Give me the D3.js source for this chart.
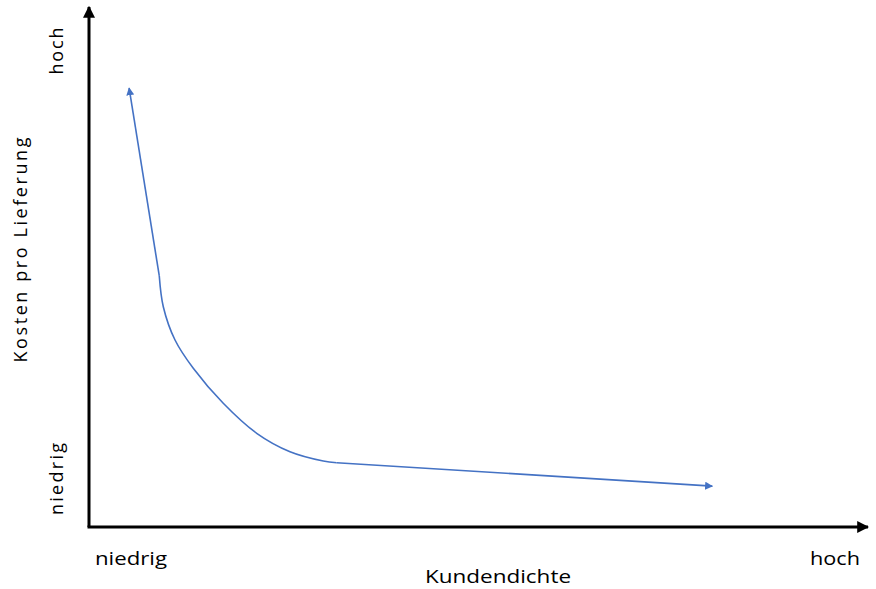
<!DOCTYPE html>
<html>
<head>
<meta charset="utf-8">
<script src="https://cdn.jsdelivr.net/npm/d3@7"></script>
<style>
  html, body { margin: 0; padding: 0; background: #fff; }
  text { font-family: "Open Sans", "Liberation Sans", sans-serif; fill: #000; }
</style>
</head>
<body>
<svg id="chart" width="876" height="589"></svg>
<script>
// Data (axis units 0..100)
const leftSegment = [ {x: 5.1, y: 84.9}, {x: 8.93, y: 48.55} ];
const curveSegment = [
  {x: 8.93, y: 48.55}, {x: 9.44, y: 42.61}, {x: 10.93, y: 36.17},
  {x: 13.25, y: 30.70}, {x: 17.06, y: 23.93}, {x: 21.31, y: 18.12}, {x: 25.54, y: 14.56},
  {x: 29.77, y: 12.77}, {x: 31.47, y: 12.44}
];
const rightSegment = [ {x: 31.47, y: 12.44}, {x: 79.2, y: 7.9} ];
const xTickLabels = ["niedrig", "hoch"];
const yTickLabels = ["niedrig", "hoch"];
const xTitle = "Kundendichte";
const yTitle = "Kosten pro Lieferung";

const svg = d3.select("#chart");
const x = d3.scaleLinear().domain([0, 100]).range([89, 876]);
const y = d3.scaleLinear().domain([0, 100]).range([527, 10]);

const defs = svg.append("defs");
defs.append("marker").attr("id", "blueArrow")
  .attr("viewBox", "0 0 10 10").attr("refX", 9).attr("refY", 5)
  .attr("markerWidth", 5).attr("markerHeight", 5).attr("orient", "auto-start-reverse")
  .attr("markerUnits", "strokeWidth")
  .append("path").attr("d", "M0,0 L10,5 L0,10 Z").attr("fill", "#4472C4");
defs.append("marker").attr("id", "blackArrow")
  .attr("viewBox", "0 0 10 10").attr("refX", 9).attr("refY", 5)
  .attr("markerWidth", 4).attr("markerHeight", 4).attr("orient", "auto")
  .attr("markerUnits", "strokeWidth")
  .append("path").attr("d", "M0,0 L10,5 L0,10 Z").attr("fill", "#000");

// Axes
svg.append("line").attr("x1", x(0)).attr("y1", y(0)).attr("x2", x(0)).attr("y2", y(100) - 3)
  .attr("stroke", "#000").attr("stroke-width", 3).attr("marker-end", "url(#blackArrow)");
svg.append("line").attr("x1", x(0) - 1.5).attr("y1", y(0)).attr("x2", x(100) - 8).attr("y2", y(0))
  .attr("stroke", "#000").attr("stroke-width", 3).attr("marker-end", "url(#blackArrow)");

// Curve
const lin = d3.line().x(d => x(d.x)).y(d => y(d.y));
const smooth = d3.line().x(d => x(d.x)).y(d => y(d.y)).curve(d3.curveCatmullRom.alpha(0.5));
const blue = "#4472C4";
svg.append("path").attr("d", lin(leftSegment)).attr("fill", "none").attr("stroke", blue)
  .attr("stroke-width", 1.6).attr("marker-start", "url(#blueArrow)");
svg.append("path").attr("d", smooth(curveSegment)).attr("fill", "none").attr("stroke", blue)
  .attr("stroke-width", 1.6);
svg.append("path").attr("d", lin(rightSegment)).attr("fill", "none").attr("stroke", blue)
  .attr("stroke-width", 1.6).attr("marker-end", "url(#blueArrow)");

// X labels
svg.append("text").attr("x", 95).attr("y", 565).attr("font-size", 18)
  .attr("textLength", 72).attr("lengthAdjust", "spacingAndGlyphs").text(xTickLabels[0]);
svg.append("text").attr("x", 810).attr("y", 565).attr("font-size", 18)
  .attr("textLength", 50).attr("lengthAdjust", "spacingAndGlyphs").text(xTickLabels[1]);
svg.append("text").attr("x", 425).attr("y", 583).attr("font-size", 18)
  .attr("textLength", 146).attr("lengthAdjust", "spacingAndGlyphs").text(xTitle);

// Y labels (rotated)
function vtext(cx, baseX, len, txt) {
  svg.append("text").attr("transform", `translate(${baseX},${cx}) rotate(-90)`)
    .attr("text-anchor", "middle").attr("font-size", 18)
    .attr("textLength", len).attr("lengthAdjust", "spacing").text(txt);
}
vtext(51, 63, 47, yTickLabels[1]);
vtext(479, 63, 72, yTickLabels[0]);
vtext(250, 27, 225, yTitle);
</script>
</body>
</html>
